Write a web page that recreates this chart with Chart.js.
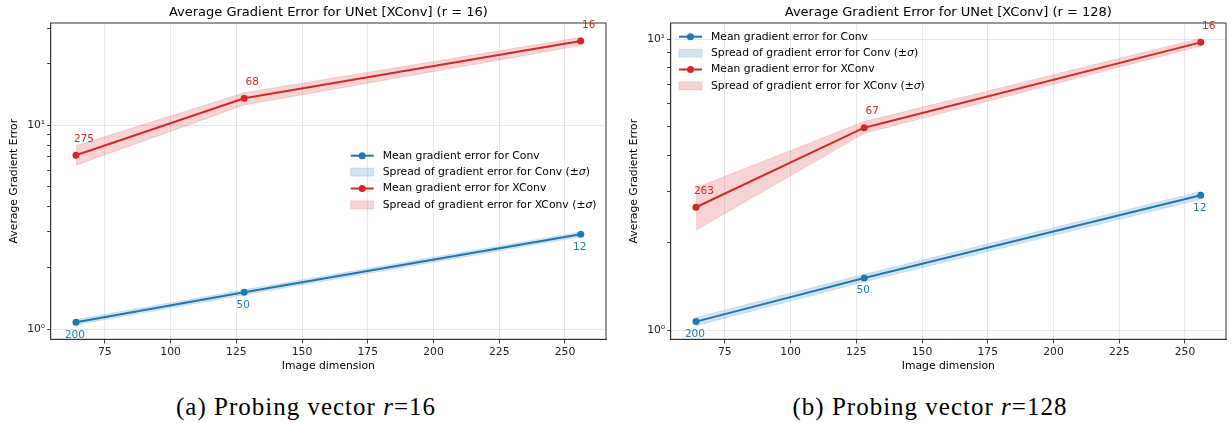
<!DOCTYPE html>
<html>
<head>
<meta charset="utf-8">
<script src="https://cdn.jsdelivr.net/npm/chart.js@4"></script>
<style>
  body { margin: 0; background: #fff; width: 1231px; height: 423px; position: relative; overflow: hidden; }
  canvas { position: absolute; top: 0; }
  #c16 { left: 0; }
  #c128 { left: 615px; }
  .caption { position: absolute; top: 393px; width: 400px; text-align: center;
             font-family: 'Liberation Serif', serif; font-size: 25px; letter-spacing: 1px; color: #000; }
  #cap1 { left: 106px; }
  #cap2 { left: 730px; }
</style>
</head>
<body>
<canvas id="c16" width="615" height="385"></canvas>
<canvas id="c128" width="616" height="385"></canvas>
<div class="caption" id="cap1">(a) Probing vector <i>r</i>=16</div>
<div class="caption" id="cap2">(b) Probing vector <i>r</i>=128</div>
<script>
// image sizes on the x axis
const dims = [64, 128, 256];
const xTicks = [75, 100, 125, 150, 175, 200, 225, 250];
const yMajor = [1, 10];
const yMinor16 = [2, 3, 4, 5, 6, 7, 8, 9, 20, 30];
const yMinor128 = [2, 3, 4, 5, 6, 7, 8, 9];

// r = 16
const convMean16 = [1.081, 1.517, 2.92];
const convLow16 = [1.05, 1.475, 2.84];
const convHigh16 = [1.115, 1.56, 3.0];
const xconvMean16 = [7.13, 13.56, 25.9];
const xconvLow16 = [6.37, 12.58, 24.6];
const xconvHigh16 = [7.94, 14.45, 27.0];
const convNotes16 = ['200', '50', '12'];
const xconvNotes16 = ['275', '68', '16'];

// r = 128
const convMean128 = [1.074, 1.516, 2.911];
const convLow128 = [1.04, 1.47, 2.82];
const convHigh128 = [1.11, 1.56, 3.0];
const xconvMean128 = [2.649, 4.966, 9.74];
const xconvLow128 = [2.21, 4.75, 9.46];
const xconvHigh128 = [3.09, 5.21, 10.06];
const convNotes128 = ['200', '50', '12'];
const xconvNotes128 = ['263', '67', '16'];

const legendLabels = [
  'Mean gradient error for Conv',
  'Spread of gradient error for Conv (±σ)',
  'Mean gradient error for XConv',
  'Spread of gradient error for XConv (±σ)'
];

const BLUE = '#1f77b4';
const RED = '#d62728';
const BLUE_BAND = 'rgba(31,119,180,0.2)';
const RED_BAND = 'rgba(214,39,40,0.2)';
const AXIS = '#333';
const GRID = 'rgba(0,0,0,0.09)';
const FONT = "'DejaVu Sans', sans-serif";
const FS = 10.8;

function pts(vals) {
  return dims.map((x, i) => ({ x: x, y: vals[i] }));
}

function isMajor(v) {
  return yMajor.some(m => Math.abs(m - v) < 1e-9);
}

// frame, point labels and legend, matplotlib style
const extras = {
  id: 'extras',
  afterDatasetsDraw(chart, args, opts) {
    const ctx = chart.ctx;
    const a = chart.chartArea;
    const xs = chart.scales.x, ys = chart.scales.y;
    ctx.save();
    ctx.strokeStyle = AXIS;
    ctx.lineWidth = 1;
    ctx.strokeRect(a.left, a.top, a.right - a.left, a.bottom - a.top);

    ctx.font = '10.5px ' + FONT;
    ctx.textAlign = 'center';
    ctx.textBaseline = 'middle';
    dims.forEach((d, i) => {
      const px = xs.getPixelForValue(d);
      ctx.fillStyle = RED;
      ctx.fillText(opts.xconvNotes[i], px + 8, ys.getPixelForValue(opts.xconvMean[i]) - 16);
      ctx.fillStyle = BLUE;
      ctx.fillText(opts.convNotes[i], px - 1, ys.getPixelForValue(opts.convMean[i]) + 12.7);
    });

    // legend
    const L = opts.legend;
    const cols = [BLUE, BLUE, RED, RED];
    const bands = [null, BLUE_BAND, null, RED_BAND];
    legendLabels.forEach((txt, i) => {
      const y = L.y + i * L.dy;
      if (bands[i]) {
        ctx.fillStyle = bands[i];
        ctx.fillRect(L.x, y - 4, 23, 8);
        ctx.strokeStyle = bands[i];
        ctx.lineWidth = 0.8;
        ctx.strokeRect(L.x, y - 4, 23, 8);
      } else {
        ctx.strokeStyle = cols[i];
        ctx.lineWidth = 2;
        ctx.beginPath();
        ctx.moveTo(L.x, y);
        ctx.lineTo(L.x + 23, y);
        ctx.stroke();
        ctx.fillStyle = cols[i];
        ctx.beginPath();
        ctx.arc(L.x + 11.5, y, 3.5, 0, Math.PI * 2);
        ctx.fill();
      }
      ctx.fillStyle = '#000';
      ctx.textAlign = 'left';
      let x = L.x + 32;
      const parts = txt.split('σ');
      parts.forEach((part, k) => {
        ctx.font = FS + 'px ' + FONT;
        ctx.fillText(part, x, y);
        x += ctx.measureText(part).width;
        if (k < parts.length - 1) {
          ctx.font = 'italic ' + FS + 'px ' + FONT;
          ctx.fillText('σ', x, y);
          x += ctx.measureText('σ').width;
        }
      });
    });
    ctx.restore();
  }
};

function buildChart(id, p) {
  const line = (vals, color) => ({
    data: pts(vals), borderColor: color, backgroundColor: color, borderWidth: 2,
    pointRadius: 3.5, pointBorderWidth: 0, fill: false, tension: 0
  });
  const edge = (vals, color, fill) => ({
    data: pts(vals), borderColor: color, backgroundColor: color, borderWidth: 0.8,
    pointRadius: 0, fill: fill, tension: 0
  });

  new Chart(document.getElementById(id), {
    type: 'line',
    data: {
      datasets: [
        line(p.convMean, BLUE),
        line(p.xconvMean, RED),
        edge(p.convLow, BLUE_BAND, false),
        edge(p.convHigh, BLUE_BAND, '-1'),
        edge(p.xconvLow, RED_BAND, false),
        edge(p.xconvHigh, RED_BAND, '-1')
      ]
    },
    options: {
      responsive: false,
      animation: false,
      layout: { padding: { left: 0, right: p.padRight, top: 0, bottom: 0 } },
      scales: {
        x: {
          type: 'linear', min: 54.4, max: 265.6,
          afterBuildTicks: s => { s.ticks = xTicks.map(v => ({ value: v })); },
          afterFit: s => { s.height = 385 - 339.3; },
          grid: { color: GRID, tickColor: AXIS, tickLength: 4 },
          border: { color: AXIS, width: 1 },
          ticks: { color: '#222', font: { family: FONT, size: FS }, padding: 2.5, maxRotation: 0, autoSkip: false },
          title: { display: true, text: 'Image dimension', color: '#000',
                   font: { family: FONT, size: FS }, padding: { top: 0, bottom: 12.5 } }
        },
        y: {
          type: 'logarithmic', min: p.yMin, max: p.yMax,
          afterBuildTicks: s => {
            s.ticks = yMajor.concat(p.yMinor).map(v => ({ value: v, major: isMajor(v) }));
          },
          afterFit: s => { s.width = p.yWidth; },
          grid: {
            color: c => (c.tick && isMajor(c.tick.value)) ? GRID : 'rgba(0,0,0,0)',
            tickColor: AXIS, tickLength: 3.5
          },
          border: { color: AXIS, width: 1 },
          ticks: {
            color: '#222', font: { family: FONT, size: FS }, padding: 2, autoSkip: false,
            callback: v => Math.abs(v - 1) < 1e-9 ? '10⁰' : (Math.abs(v - 10) < 1e-9 ? '10¹' : '')
          },
          title: { display: true, text: 'Average Gradient Error', color: '#000',
                   font: { family: FONT, size: FS }, padding: { top: p.yTitlePad, bottom: 0 } }
        }
      },
      plugins: {
        legend: { display: false },
        tooltip: { enabled: false },
        title: {
          display: true, text: p.title, color: '#000', fullSize: false,
          font: { family: FONT, size: 13, weight: 'normal' },
          padding: { top: 5, bottom: 2.4 }
        },
        extras: {
          convMean: p.convMean, xconvMean: p.xconvMean,
          convNotes: p.convNotes, xconvNotes: p.xconvNotes,
          legend: p.legend
        }
      }
    },
    plugins: [extras]
  });
}

buildChart('c16', {
  title: 'Average Gradient Error for UNet [XConv] (r = 16)',
  convMean: convMean16, convLow: convLow16, convHigh: convHigh16,
  xconvMean: xconvMean16, xconvLow: xconvLow16, xconvHigh: xconvHigh16,
  convNotes: convNotes16, xconvNotes: xconvNotes16,
  yMin: 0.892, yMax: 31.75, yMinor: yMinor16,
  yWidth: 50.7, padRight: 9, yTitlePad: 7.8,
  legend: { x: 350.7, y: 155.7, dy: 16.4 }
});

buildChart('c128', {
  title: 'Average Gradient Error for UNet [XConv] (r = 128)',
  convMean: convMean128, convLow: convLow128, convHigh: convHigh128,
  xconvMean: xconvMean128, xconvLow: xconvLow128, xconvHigh: xconvHigh128,
  convNotes: convNotes128, xconvNotes: xconvNotes128,
  yMin: 0.934, yMax: 11.35, yMinor: yMinor128,
  yWidth: 55.7, padRight: 5, yTitlePad: 12.5,
  legend: { x: 64, y: 36.7, dy: 16.4 }
});
</script>
</body>
</html>
